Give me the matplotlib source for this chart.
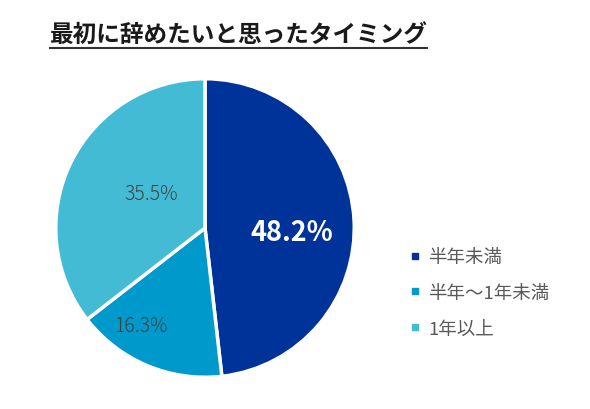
import matplotlib
matplotlib.use('Agg')
import matplotlib.pyplot as plt
from matplotlib.lines import Line2D

plt.rcParams['font.family'] = ['Noto Sans CJK JP', 'DejaVu Sans']

# データ
labels = ['半年未満', '半年〜1年未満', '1年以上']
values = [48.2, 16.3, 35.5]
colors = ['#00339a', '#0099cc', '#44bbd5']
title = '最初に辞めたいと思ったタイミング'

W, H = 590, 410
fig = plt.figure(figsize=(W / 100, H / 100), dpi=100)

# 円グラフ (中心 205,229 px, 半径 ~149 px)
cx, cy, r = 205, 229, 150
ax = fig.add_axes([(cx - r) / W, (H - cy - r) / H, 2 * r / W, 2 * r / H])
wedges, texts = ax.pie(values, colors=colors, startangle=90, counterclock=False,
                       radius=0.995, wedgeprops=dict(edgecolor='white', linewidth=2.5))
ax.set_xlim(-1, 1)
ax.set_ylim(-1, 1)

# ラベル
pos = [(0.58, -0.03), (-0.43, -0.65), (-0.36, 0.23)]
for i, (v, (x, y)) in enumerate(zip(values, pos)):
    if i == 0:
        ax.text(x, y, f'{v:.1f}%', color='white', fontsize=19.5, fontweight='bold',
                ha='center', va='center')
    else:
        ax.text(x, y, f'{v:.1f}%', color='#404040', fontsize=14, fontweight='light',
                ha='center', va='center')

# 凡例
handles = [Line2D([], [], marker='s', linestyle='none', markersize=4.5,
                  markerfacecolor=c, markeredgecolor=c) for c in colors]
leg = fig.legend(handles, labels, loc='upper left', bbox_to_anchor=(403 / W, 1 - 242 / H),
                 frameon=False, fontsize=13.3, labelspacing=0.95, handlelength=0.5,
                 handletextpad=0.45, borderaxespad=0)
for t in leg.get_texts():
    t.set_color('#595959')

# タイトル
fig.text(50 / W, 1 - 36 / H, title, fontsize=17, fontweight='bold', color='#1a1a1a',
         ha='left', va='center')
fig.add_artist(Line2D([50 / W, 427 / W], [1 - 49 / H, 1 - 49 / H], color='#333333',
                      linewidth=1.5, transform=fig.transFigure))

fig.savefig('out.png', dpi=100)
